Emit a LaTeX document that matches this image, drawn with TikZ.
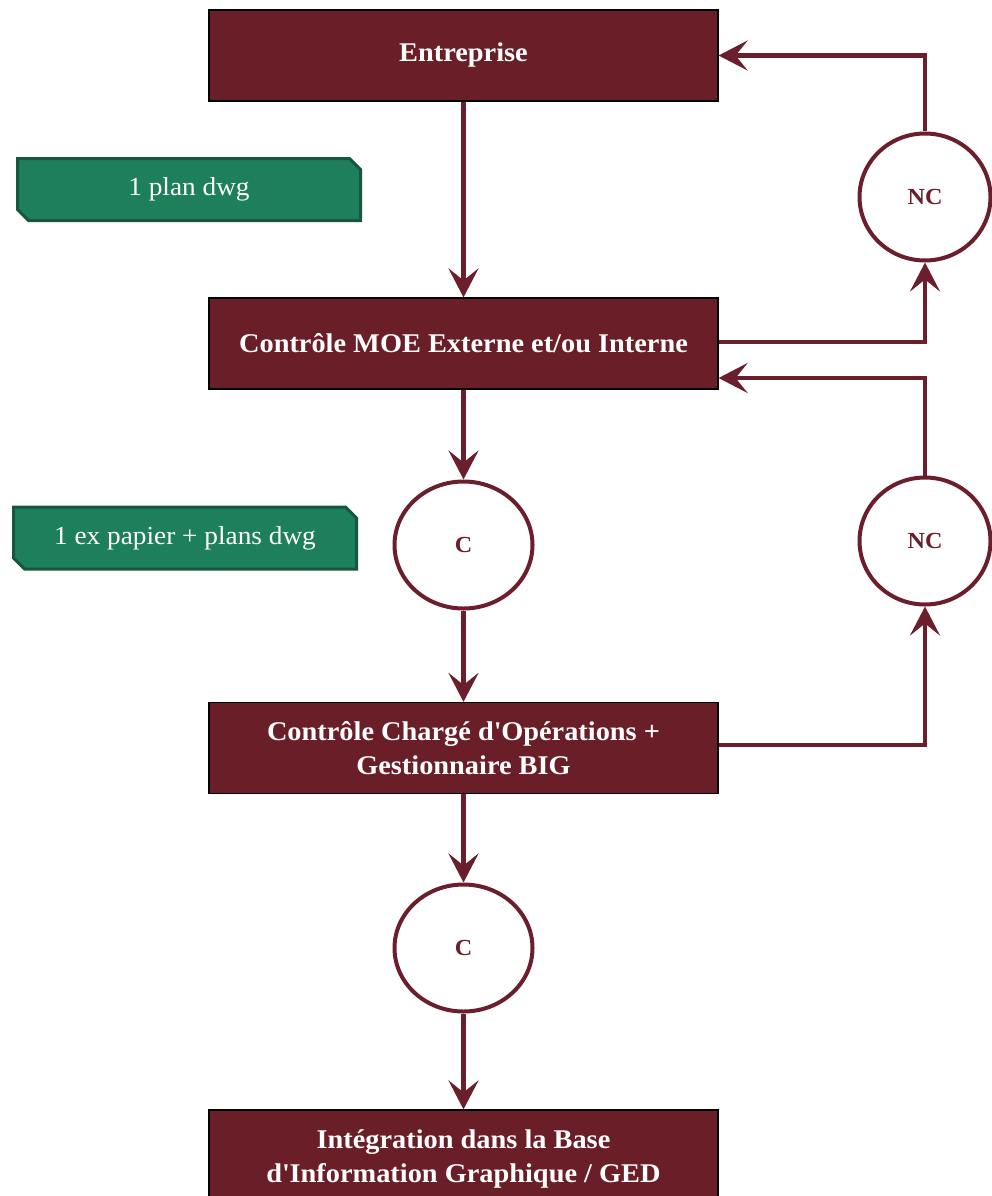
\documentclass[tikz,border=0pt]{standalone}
\usepackage{fontspec}
\setmainfont{Liberation Serif}
\newfontfamily\widefont[FakeStretch=1.05]{Liberation Serif}
\usetikzlibrary{arrows.meta,shapes.misc,shapes.geometric}
\definecolor{boxfill}{HTML}{6A1F28}
\definecolor{wire}{HTML}{6B1E2B}
\definecolor{tagfill}{HTML}{1E7F5C}
\definecolor{tagedge}{HTML}{17573F}
\begin{document}
\begin{tikzpicture}[x=1pt,y=-1pt,
  box/.style={draw=black, line width=1.2pt, fill=boxfill, text=white,
    font=\widefont\bfseries\fontsize{27}{34}\selectfont, minimum width=509pt,
    minimum height=91pt, align=center, inner sep=0pt},
  circ/.style={ellipse, draw=wire, line width=4pt, fill=white, text=wire,
    font=\widefont\bfseries\fontsize{23}{24}\selectfont, inner sep=0pt},
  cnode/.style={circ, minimum width=138pt, minimum height=127pt},
  ncnode/.style={circ, minimum width=131pt, minimum height=127pt},
  tag/.style={chamfered rectangle, chamfered rectangle corners={north east,south west},
    chamfered rectangle xsep=8pt, draw=tagedge, line width=3pt, fill=tagfill,
    text=white, font=\widefont\fontsize{26}{28}\selectfont, minimum width=343pt,
    minimum height=62pt, inner sep=0pt},
  conn/.style={draw=wire, line width=4.5pt, -{Stealth[length=29pt,width=30pt,inset=12pt]}}
]
\useasboundingbox (0,0) rectangle (992,1196);
\clip (0,0) rectangle (992,1196);

\node[box] (ent) at (463.5,55.5) {Entreprise};
\node[box] (moe) at (463.5,343.5) {Contrôle MOE Externe et/ou Interne};
\node[box] (cop) at (463.5,748) {Contrôle Chargé d\textquotesingle Opérations +\\Gestionnaire BIG};
\node[box, minimum height=97pt] (big) at (463.5,1158.5) {Intégration dans la Base\\d\textquotesingle Information Graphique / GED};

\node[cnode] (c1) at (463.5,545) {C};
\node[cnode] (c2) at (463.5,948) {C};
\node[ncnode] (nc1) at (925,197) {NC};
\node[ncnode] (nc2) at (925,541) {NC};

\node[tag] (t1) at (189,189.5) {1 plan dwg};
\node[tag] (t2) at (185,538) {1 ex papier + plans dwg};

\draw[conn] (ent.south) -- (moe.north);
\draw[conn] (moe.south) -- (c1.north);
\draw[conn] (c1.south) -- (cop.north);
\draw[conn] (cop.south) -- (c2.north);
\draw[conn] (c2.south) -- (big.north);

\draw[conn] (moe.east |- 0,342) -| (nc1.south);
\draw[conn] (nc1.north) |- (ent.east);
\draw[conn] (cop.east |- 0,745) -| (nc2.south);
\draw[conn] (nc2.north) |- (moe.east |- 0,378);
\end{tikzpicture}
\end{document}
